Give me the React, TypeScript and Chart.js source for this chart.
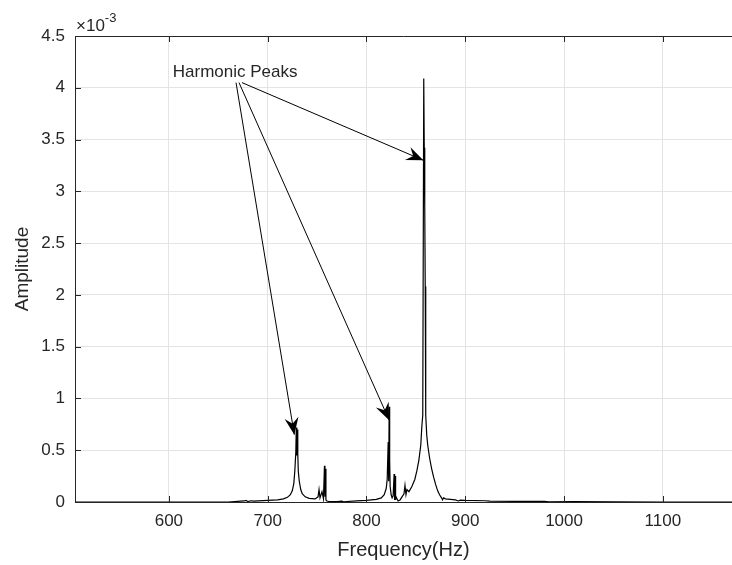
import React, { useEffect, useRef } from "react";
import { Chart, registerables } from "chart.js";

Chart.register(...registerables);

// Spectrum samples (amplitude in units of 1e-3)
const freqHz = [
  505, 560, 620, 660, 676, 678, 680, 683, 686, 700, 710, 716, 720, 723, 725, 726.5, 727.5, 728.5, 729,
  729.5, 730, 730.5, 731, 732, 733.5, 735, 738, 742, 748, 751, 752, 753, 755, 756.5, 757.5, 758, 758.5,
  759, 760, 762, 770, 775, 777, 780, 790, 800, 805, 810, 815, 818, 820, 821, 822, 822.5, 823, 823.5, 824,
  825, 826, 827, 828, 828.5, 829, 829.5, 830, 831, 832, 834, 836, 838, 839, 840, 841, 843, 846, 849, 851,
  853, 855, 856, 857, 858, 858.5, 859, 859.5, 860, 861, 862, 864, 866, 868, 870, 872, 874, 876, 877, 878,
  880, 885, 890, 893, 895, 900, 920, 925, 950, 980, 985, 1010, 1050, 1100, 1170,
];
const amplitudeE3 = [
  0, 0, 0, 0, 0.01, 0.015, 0.005, 0.012, 0.008, 0.015, 0.02, 0.03, 0.045, 0.07, 0.11, 0.18, 0.3, 0.48, 0.72,
  0.45, 0.7, 0.46, 0.3, 0.2, 0.12, 0.08, 0.05, 0.035, 0.03, 0.05, 0.12, 0.04, 0.1, 0.03, 0.35, 0.05, 0.32,
  0.02, 0.01, 0.005, 0.004, 0.008, 0.002, 0.005, 0.01, 0.015, 0.02, 0.025, 0.04, 0.07, 0.13, 0.22, 0.58, 0.2,
  0.92, 0.4, 0.15, 0.07, 0.04, 0.06, 0.27, 0.02, 0.25, 0.02, 0.05, 0.03, 0.01, 0.02, 0.05, 0.08, 0.16, 0.07,
  0.12, 0.1, 0.15, 0.22, 0.3, 0.4, 0.55, 0.72, 0.84, 4.09, 3.42, 2.85, 2.08, 0.84, 0.65, 0.55, 0.42, 0.32, 0.24,
  0.17, 0.11, 0.07, 0.04, 0.02, 0.04, 0.03, 0.025, 0.02, 0.01, 0.018, 0.015, 0.012, 0.008, 0.007, 0.006,
  0.002, 0.003, 0.001, 0, 0,
];

const xTicks = [600, 700, 800, 900, 1000, 1100];
const yTicksE3 = [0, 0.5, 1, 1.5, 2, 2.5, 3, 3.5, 4, 4.5];
const xRange = [505, 1170];
const yRangeE3 = [0, 4.5];

const annotationLabel = "Harmonic Peaks";
const annotationAnchor = [604, 4.15]; // [Hz, amplitude e-3]
const arrowStarts = [
  [668, 4.05],
  [671, 4.05],
  [674, 4.05],
];
const arrowTips = [
  [727, 0.65],
  [823, 0.79],
  [857.6, 3.3],
];

const FONT = '"Liberation Sans", Arial, Helvetica, sans-serif';
const TEXT = "#262626";

function drawArrowHead(ctx: CanvasRenderingContext2D, x0: number, y0: number, x1: number, y1: number) {
  const ang = Math.atan2(y1 - y0, x1 - x0);
  const len = 17;
  const half = 7;
  const notch = 11;
  const bx = x1 - len * Math.cos(ang);
  const by = y1 - len * Math.sin(ang);
  const nx = x1 - notch * Math.cos(ang);
  const ny = y1 - notch * Math.sin(ang);
  const px = -Math.sin(ang);
  const py = Math.cos(ang);
  ctx.beginPath();
  ctx.moveTo(x1, y1);
  ctx.lineTo(bx + px * half, by + py * half);
  ctx.lineTo(nx, ny);
  ctx.lineTo(bx - px * half, by - py * half);
  ctx.closePath();
  ctx.fill();
}

const overlayPlugin = {
  id: "matlabOverlay",
  afterDraw(chart: any) {
    const { ctx, chartArea, scales } = chart;
    const { left, right, top, bottom } = chartArea;
    const x = scales.x;
    const y = scales.y;
    ctx.save();
    ctx.strokeStyle = TEXT;
    ctx.lineWidth = 1;
    // top border
    ctx.beginPath();
    ctx.moveTo(left, Math.round(top) + 0.5);
    ctx.lineTo(right, Math.round(top) + 0.5);
    ctx.stroke();
    // inward ticks
    ctx.beginPath();
    xTicks.forEach((v) => {
      const px = Math.round(x.getPixelForValue(v)) + 0.5;
      ctx.moveTo(px, bottom);
      ctx.lineTo(px, bottom - 6);
      ctx.moveTo(px, top);
      ctx.lineTo(px, top + 6);
    });
    yTicksE3.forEach((v) => {
      const py = Math.round(y.getPixelForValue(v * 1e-3)) + 0.5;
      ctx.moveTo(left, py);
      ctx.lineTo(left + 6, py);
    });
    ctx.stroke();

    // exponent label
    ctx.fillStyle = TEXT;
    ctx.textBaseline = "alphabetic";
    ctx.textAlign = "left";
    ctx.font = `17px ${FONT}`;
    const base = "\u00d710";
    ctx.fillText(base, left + 1, top - 5);
    const w = ctx.measureText(base).width;
    ctx.font = `13px ${FONT}`;
    ctx.fillText("-3", left + 1 + w, top - 14);

    // annotation text
    ctx.font = `17px ${FONT}`;
    ctx.textBaseline = "middle";
    ctx.fillText(
      annotationLabel,
      x.getPixelForValue(annotationAnchor[0]),
      y.getPixelForValue(annotationAnchor[1] * 1e-3)
    );

    // arrows
    ctx.strokeStyle = "#000";
    ctx.fillStyle = "#000";
    ctx.lineWidth = 1;
    arrowStarts.forEach((s, i) => {
      const t = arrowTips[i];
      const x0 = x.getPixelForValue(s[0]);
      const y0 = y.getPixelForValue(s[1] * 1e-3);
      const x1 = x.getPixelForValue(t[0]);
      const y1 = y.getPixelForValue(t[1] * 1e-3);
      ctx.beginPath();
      ctx.moveTo(x0, y0);
      ctx.lineTo(x1, y1);
      ctx.stroke();
      drawArrowHead(ctx, x0, y0, x1, y1);
    });
    ctx.restore();
  },
};

export default function App() {
  const ref = useRef<HTMLCanvasElement | null>(null);
  useEffect(() => {
    if (!ref.current) return;
    const points = freqHz.map((f, i) => ({ x: f, y: amplitudeE3[i] * 1e-3 }));
    const chart = new Chart(ref.current, {
      type: "scatter",
      data: {
        datasets: [
          {
            data: points,
            showLine: true,
            borderColor: "#000",
            borderWidth: 1.2,
            pointRadius: 0,
            tension: 0,
          },
        ],
      },
      options: {
        animation: false,
        responsive: false,
        devicePixelRatio: 1,
        layout: { padding: { top: 36, left: 0, right: 0, bottom: 0 } },
        plugins: { legend: { display: false }, tooltip: { enabled: false } },
        scales: {
          x: {
            type: "linear",
            min: xRange[0],
            max: xRange[1],
            afterFit: (s: any) => {
              s.height = 63;
            },
            afterBuildTicks: (s: any) => {
              s.ticks = xTicks.map((v) => ({ value: v }));
            },
            ticks: {
              color: TEXT,
              font: { family: FONT, size: 17 },
              padding: 9,
              maxRotation: 0,
              autoSkip: false,
              callback: (v: any) => String(v),
            },
            grid: { color: "#e4e4e4", drawTicks: false, lineWidth: 1 },
            border: { display: true, color: TEXT, width: 1 },
            title: {
              display: true,
              text: "Frequency(Hz)",
              color: TEXT,
              font: { family: FONT, size: 20 },
              padding: { top: 0, bottom: 3 },
            },
          },
          y: {
            type: "linear",
            min: yRangeE3[0] * 1e-3,
            max: yRangeE3[1] * 1e-3,
            afterFit: (s: any) => {
              s.width = 75;
            },
            afterBuildTicks: (s: any) => {
              s.ticks = yTicksE3.map((v) => ({ value: v * 1e-3 }));
            },
            ticks: {
              color: TEXT,
              font: { family: FONT, size: 17 },
              padding: 10,
              autoSkip: false,
              callback: (v: any) => String(Math.round(Number(v) * 1e4) / 10),
            },
            grid: { color: "#e4e4e4", drawTicks: false, lineWidth: 1 },
            border: { display: true, color: TEXT, width: 1 },
            title: {
              display: true,
              text: "Amplitude",
              color: TEXT,
              font: { family: FONT, size: 19 },
              padding: { top: 11, bottom: 0 },
            },
          },
        },
      },
      plugins: [overlayPlugin],
    });
    return () => chart.destroy();
  }, []);
  return (
    <div style={{ position: "fixed", left: 0, top: 0, width: 732, height: 565, background: "#fff" }}>
      <canvas ref={ref} width={732} height={565} style={{ display: "block" }} />
    </div>
  );
}
